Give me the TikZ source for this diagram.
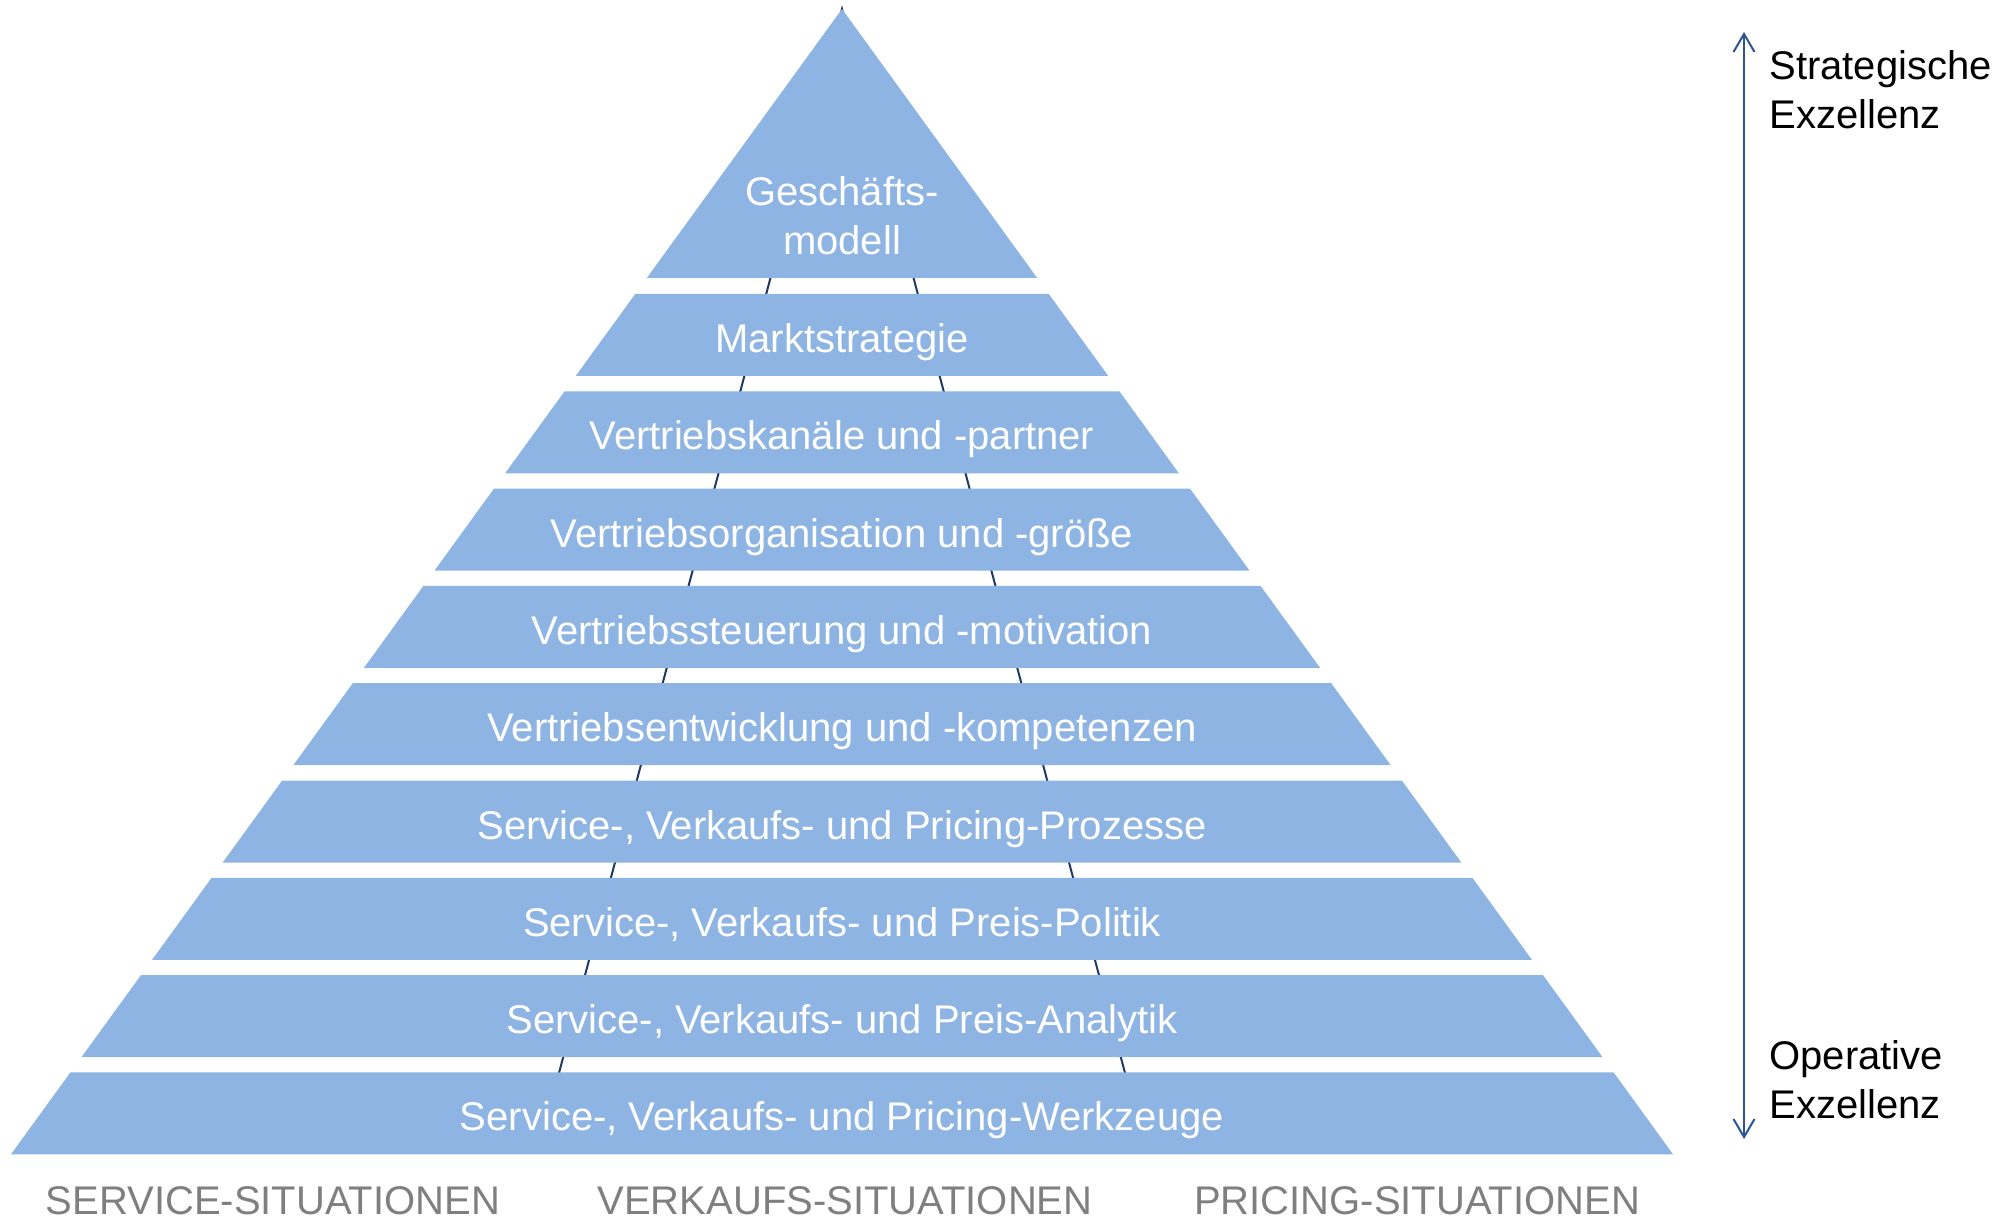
\documentclass[tikz,border=0pt]{standalone}
\usepackage{fontspec}
\setmainfont{Liberation Sans}
\usetikzlibrary{arrows.meta}
\definecolor{layerblue}{HTML}{8EB4E3}
\definecolor{edgenavy}{HTML}{1F3864}
\definecolor{arrowblue}{HTML}{2F5496}
\definecolor{sitgray}{HTML}{7F7F7F}
\begin{document}
\begin{tikzpicture}
        [x=0.5pt,y=-0.5pt,
         every node/.style={inner sep=0pt,font=\fontsize{20}{24.5}\selectfont},
         layer/.style={fill=layerblue},
         layertext/.style={text=white,anchor=base},
         situation/.style={text=sitgray,anchor=base},
         excellence/.style={anchor=west,align=left}]
        \useasboundingbox (0,0) rectangle (2013,1219);
        %Pyramid edges
        \coordinate (apex)  at (842,9);
        \coordinate (baseL) at (538.5,1150);
        \coordinate (baseR) at (1145.5,1150);
        \draw[edgenavy, line width=1pt] (baseL) -- (apex) -- (baseR);

        %Top layer
        \fill[layer] (apex) -- (646.8,278) -- (1037.2,278) -- cycle;
        \node[text=white, align=center] (L0) at (842,216) {Geschäfts-\\modell};

        %Lower layers
        \foreach \name [count=\i] in {Marktstrategie,
                Vertriebskanäle und -partner,
                Vertriebsorganisation und -größe,
                Vertriebssteuerung und -motivation,
                Vertriebsentwicklung und -kompetenzen,
                {Service-, Verkaufs- und Pricing-Prozesse},
                {Service-, Verkaufs- und Preis-Politik},
                {Service-, Verkaufs- und Preis-Analytik},
                {Service-, Verkaufs- und Pricing-Werkzeuge}} {
            \pgfmathsetmacro\ytop{294+(\i-1)*97.3}
            \pgfmathsetmacro\ybot{\ytop+82}
            \pgfmathsetmacro\wtop{0.7256*(\ytop-9)}
            \pgfmathsetmacro\wbot{0.7256*(\ybot-9)}
            \fill[layer] ({842-\wtop},\ytop) -- ({842+\wtop},\ytop)
                -- ({842+\wbot},\ybot) -- ({842-\wbot},\ybot) -- cycle;
            \node[layertext] (L\i) at (842,\ytop+58.5) {\name};
        }

        %Situations
        \node[situation] (service) at (273,1214)  {SERVICE-SITUATIONEN};
        \node[situation] (sales)   at (845,1214)  {VERKAUFS-SITUATIONEN};
        \node[situation] (pricing) at (1417,1214) {PRICING-SITUATIONEN};

        %Right side
        \coordinate (strat) at (1744,32);
        \coordinate (oper)  at (1744,1139);
        \draw[arrowblue, line width=1pt,
              {Straight Barb[length=9pt,width=10.5pt]}-{Straight Barb[length=9pt,width=10.5pt]}]
              (oper) -- (strat);
        \node[excellence] (S) at (1769,90)   {Strategische\\Exzellenz};
        \node[excellence] (O) at (1769,1080) {Operative\\Exzellenz};
    \end{tikzpicture}
\end{document}
